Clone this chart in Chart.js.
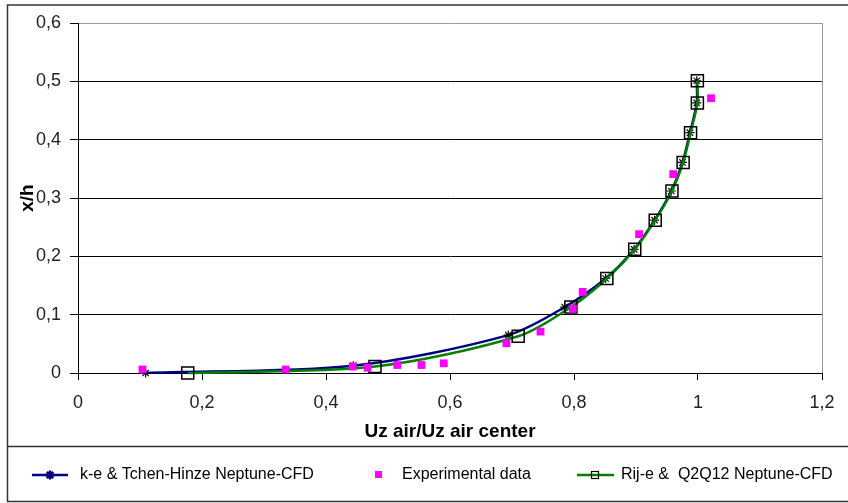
<!DOCTYPE html>
<html>
<head>
<meta charset="utf-8">
<script src="https://cdn.jsdelivr.net/npm/chart.js@4/dist/chart.umd.min.js"></script>
<style>
  body { margin: 0; background: #fff; }
  #wrap { position: relative; width: 848px; height: 503px; }
</style>
</head>
<body>
<div id="wrap"><canvas id="chart" width="848" height="503"></canvas></div>
<script>
// k-e & Tchen-Hinze (blue, star markers)
const keX = [0.109, 0.444, 0.694, 0.785, 0.851, 0.897, 0.930, 0.957, 0.975, 0.987, 0.998, 0.998];
const keY = [0.000, 0.0126, 0.065, 0.113, 0.162, 0.212, 0.262, 0.312, 0.361, 0.412, 0.463, 0.501];

// Experimental data (magenta squares)
const expX = [0.104, 0.335, 0.443, 0.467, 0.515, 0.554, 0.590, 0.691, 0.746, 0.798, 0.814, 0.905, 0.960, 1.021];
const expY = [0.006, 0.006, 0.011, 0.009, 0.0137, 0.0137, 0.0166, 0.051, 0.071, 0.110, 0.139, 0.238, 0.341, 0.471];

// Rij-e & Q2Q12 (green, square markers)
const rijX = [0.177, 0.479, 0.710, 0.795, 0.853, 0.898, 0.931, 0.958, 0.976, 0.988, 0.999, 0.999];
const rijY = [0.000, 0.011, 0.063, 0.113, 0.162, 0.212, 0.262, 0.312, 0.361, 0.412, 0.463, 0.501];

const seriesLabels = ['k-e & Tchen-Hinze Neptune-CFD', 'Experimental data', 'Rij-e &  Q2Q12 Neptune-CFD'];
const xTitle = 'Uz air/Uz air center';
const yTitle = 'x/h';

const FONT = '"Liberation Sans", Arial, sans-serif';
const pts = (xs, ys) => xs.map((x, i) => ({ x: x, y: ys[i] }));
const comma = v => String(Math.round(v * 10) / 10).replace('.', ',');

// frame, right border of plot, and the legend box
const framePlugin = {
    id: 'frame',
    afterDraw(chart) {
        const ctx = chart.ctx;
        const a = chart.chartArea;
        ctx.save();
        // right edge of the plot area
        ctx.strokeStyle = '#9a9a9a';
        ctx.lineWidth = 1;
        ctx.beginPath();
        ctx.moveTo(Math.round(a.right) + 0.5, a.top);
        ctx.lineTo(Math.round(a.right) + 0.5, a.bottom);
        ctx.stroke();
        // outer frame
        ctx.strokeStyle = '#333';
        ctx.lineWidth = 1.5;
        ctx.strokeRect(7.5, 5, 900, 496.5);
        ctx.beginPath();
        ctx.moveTo(7.5, 446.5);
        ctx.lineTo(848, 446.5);
        ctx.stroke();

        // legend entries
        const ds = chart.data.datasets;
        const y = 475;
        ctx.font = '16px ' + FONT;
        ctx.fillStyle = '#000';
        ctx.textBaseline = 'middle';
        ctx.textAlign = 'left';

        ctx.strokeStyle = ds[0].borderColor;
        ctx.lineWidth = 2.5;
        ctx.beginPath(); ctx.moveTo(32, y); ctx.lineTo(68, y); ctx.stroke();
        Chart.helpers.drawPoint(ctx, { pointStyle: 'star', radius: 4.5, borderWidth: 1.2, rotation: 0 }, 50, y);
        ctx.fillText(ds[0].label, 80, y);

        ctx.fillStyle = ds[1].backgroundColor;
        ctx.fillRect(375, y - 4, 7, 7);
        ctx.fillStyle = '#000';
        ctx.fillText(ds[1].label, 402, y);

        ctx.strokeStyle = ds[2].borderColor;
        ctx.lineWidth = 2.5;
        ctx.beginPath(); ctx.moveTo(577, y); ctx.lineTo(614, y); ctx.stroke();
        ctx.strokeStyle = '#000';
        ctx.lineWidth = 1.2;
        ctx.strokeRect(591.5, y - 3.5, 7, 7);
        ctx.fillStyle = '#000';
        ctx.fillText(ds[2].label, 621, y);
        ctx.restore();
    }
};

new Chart(document.getElementById('chart'), {
    type: 'scatter',
    data: {
        datasets: [
            {
                label: seriesLabels[0],
                data: pts(keX, keY),
                showLine: true,
                clip: false,
                borderColor: '#000080',
                borderWidth: 2.5,
                tension: 0.3,
                pointStyle: 'star',
                pointRadius: 4.5,
                pointBorderColor: '#000',
                pointBorderWidth: 1.2,
                order: 3
            },
            {
                label: seriesLabels[1],
                data: pts(expX, expY),
                showLine: false,
                clip: false,
                backgroundColor: '#ff00ff',
                borderColor: '#ff00ff',
                pointStyle: 'rect',
                pointRadius: 5.5,
                pointBorderWidth: 0,
                order: 1
            },
            {
                label: seriesLabels[2],
                data: pts(rijX, rijY),
                showLine: true,
                clip: false,
                borderColor: '#008000',
                borderWidth: 2.5,
                tension: 0.3,
                pointStyle: 'rect',
                pointRadius: 8.5,
                pointBackgroundColor: 'rgba(0,0,0,0)',
                pointBorderColor: '#000',
                pointBorderWidth: 1.5,
                order: 2
            }
        ]
    },
    options: {
        responsive: false,
        animation: false,
        layout: { padding: { left: 0, top: 23, right: 26, bottom: 60 } },
        plugins: {
            legend: { display: false },
            tooltip: { enabled: false }
        },
        scales: {
            x: {
                type: 'linear',
                min: 0,
                max: 1.2,
                afterFit: s => { s.height = 70; },
                border: { display: true, color: '#000', width: 1 },
                grid: { drawOnChartArea: false, drawTicks: true, tickLength: 7, tickColor: '#000' },
                ticks: {
                    stepSize: 0.2,
                    padding: 12,
                    color: '#222',
                    font: { family: FONT, size: 18 },
                    callback: v => comma(v)
                },
                title: {
                    display: true,
                    text: xTitle,
                    color: '#000',
                    font: { family: FONT, size: 19, weight: 'bold' },
                    padding: { top: 0, bottom: 0 }
                }
            },
            y: {
                type: 'linear',
                min: 0,
                max: 0.6,
                afterFit: s => { s.width = 78; },
                border: { display: true, color: '#000', width: 1 },
                grid: {
                    color: c => (c.tick && Math.abs(c.tick.value - 0.6) < 1e-6) ? '#9a9a9a' : '#000',
                    lineWidth: 1,
                    tickLength: 8,
                    tickColor: '#000'
                },
                ticks: {
                    stepSize: 0.1,
                    padding: 9,
                    color: '#222',
                    font: { family: FONT, size: 18 },
                    callback: v => comma(v)
                },
                title: {
                    display: true,
                    text: yTitle,
                    color: '#000',
                    font: { family: FONT, size: 19, weight: 'bold' },
                    padding: { top: 16, bottom: 0 }
                }
            }
        }
    },
    plugins: [framePlugin]
});
</script>
</body>
</html>
